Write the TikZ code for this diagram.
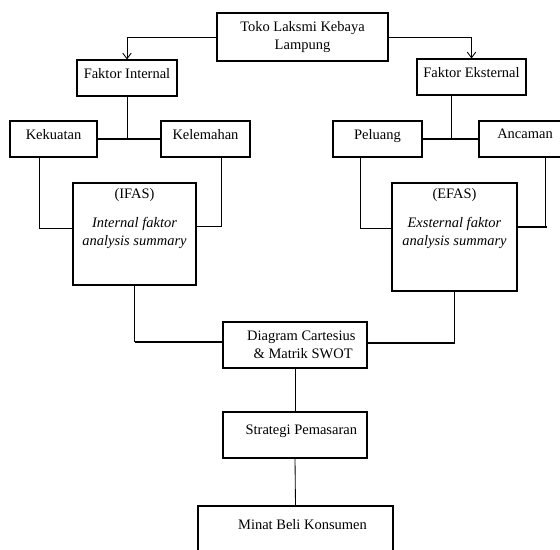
\documentclass[tikz,border=0pt]{standalone}
\usepackage{fontspec}
\setmainfont{Liberation Serif}
\usetikzlibrary{arrows.meta, positioning, calc}

\begin{document}
\begin{tikzpicture}[x=0.025cm, y=-0.025cm, font=\fontsize{10.3}{12.5}\selectfont,
        kotak/.style={draw, line width=0.8pt, align=center, inner sep=2pt},
        satu/.style={kotak, text depth=7pt},
        garis/.style={line width=0.6pt},
        tebal/.style={line width=1.5pt},
        panah/.style={line width=0.6pt, -{Straight Barb[length=4pt, width=6pt]}}]
        \useasboundingbox (0,0) rectangle (560,549);
        \clip (0,0) rectangle (560,549);
        % baris atas
        \node[kotak, minimum width=4.275cm, minimum height=1.2cm] (toko) at (302.5,37) {Toko Laksmi Kebaya\\Lampung};
        \node[satu, minimum width=2.5cm, minimum height=0.9cm] (fint) at (127,78) {Faktor Internal};
        \node[satu, minimum width=2.725cm, minimum height=0.9cm] (feks) at (471.5,77) {Faktor Eksternal};
        % faktor
        \node[satu, minimum width=2.175cm, minimum height=0.9cm] (kek) at (53.5,139) {Kekuatan};
        \node[satu, minimum width=2.225cm, minimum height=0.9cm] (kel) at (205.5,139) {Kelemahan};
        \node[satu, minimum width=2.225cm, minimum height=0.9cm] (pel) at (377.5,139) {Peluang};
        \node[satu, minimum width=2.3cm, minimum height=0.9cm] (anc) at (525,139) {Ancaman};
        % ifas / efas
        \node[kotak, minimum width=3.075cm, minimum height=2.55cm] (ifas) at (134.5,234)
          {(IFAS)\\[8pt]\textit{Internal faktor}\\\textit{analysis summary}\\[12pt]\mbox{}};
        \node[kotak, minimum width=3.125cm, minimum height=2.7cm] (efas) at (454.5,237)
          {(EFAS)\\[8pt]\textit{Exsternal faktor}\\\textit{analysis summary}\\[16pt]\mbox{}};
        % hasil
        \node[kotak, minimum width=3.6cm, minimum height=1.15cm] (dsw) at (295,345)
          {\hspace*{9pt}Diagram Cartesius\\\hspace*{9pt}\ \& Matrik SWOT};
        \node[satu, minimum width=3.6cm, minimum height=1.15cm] (strat) at (295,435) {\hspace*{9pt}Strategi Pemasaran};
        \node[satu, minimum width=4.875cm, minimum height=1.15cm] (minat) at (295.5,529) {\hspace*{10pt}Minat Beli Konsumen};

        \coordinate (kekb) at ($(kek.south west)+(30,0)$);
        \coordinate (kelb) at ($(kel.south west)+(61,0)$);
        \coordinate (pelb) at ($(pel.south west)+(28,0)$);
        \coordinate (ancb) at ($(anc.south west)+(67,0)$);
        \coordinate (feksb) at ($(feks.south)+(-20,0)$);
        \coordinate (efasr) at ($(efas.east)+(29,-10)$);

        \draw[panah] (toko.west) -| (fint.north);
        \draw[panah] (toko.east) -| (feks.north);
        \draw[garis] (fint.south) -- (fint.south |- kek.east);
        \draw[tebal] (kek.east) -- (kel.west);
        \draw[garis] (feksb) -- (feksb |- pel.east);
        \draw[tebal] (pel.east) -- (anc.west);
        \draw[garis] (kekb) |- ($(ifas.west)+(0,-6)$);
        \draw[garis] (kelb) |- ($(ifas.east)+(0,-8)$);
        \draw[garis] (pelb) |- ($(efas.west)+(0,-9)$);
        \draw[garis] (ancb) -- (ancb |- efasr);
        \draw[tebal] (efasr) -- ($(efas.east)+(0,-10)$);
        \draw[garis] (ifas.south) -- ($(ifas.south |- dsw.west)+(0,-3)$);
        \draw[tebal] ($(ifas.south |- dsw.west)+(0,-3)$) -- ($(dsw.west)+(0,-3)$);
        \draw[garis] (efas.south) -- ($(efas.south |- dsw.east)+(0,-2)$);
        \draw[tebal] ($(efas.south |- dsw.east)+(0,-2)$) -- ($(dsw.east)+(0,-2)$);
        \draw[garis] (dsw.south) -- (strat.north);
        \draw[garis] (strat.south) -- (minat.north);
\end{tikzpicture}
\end{document}
